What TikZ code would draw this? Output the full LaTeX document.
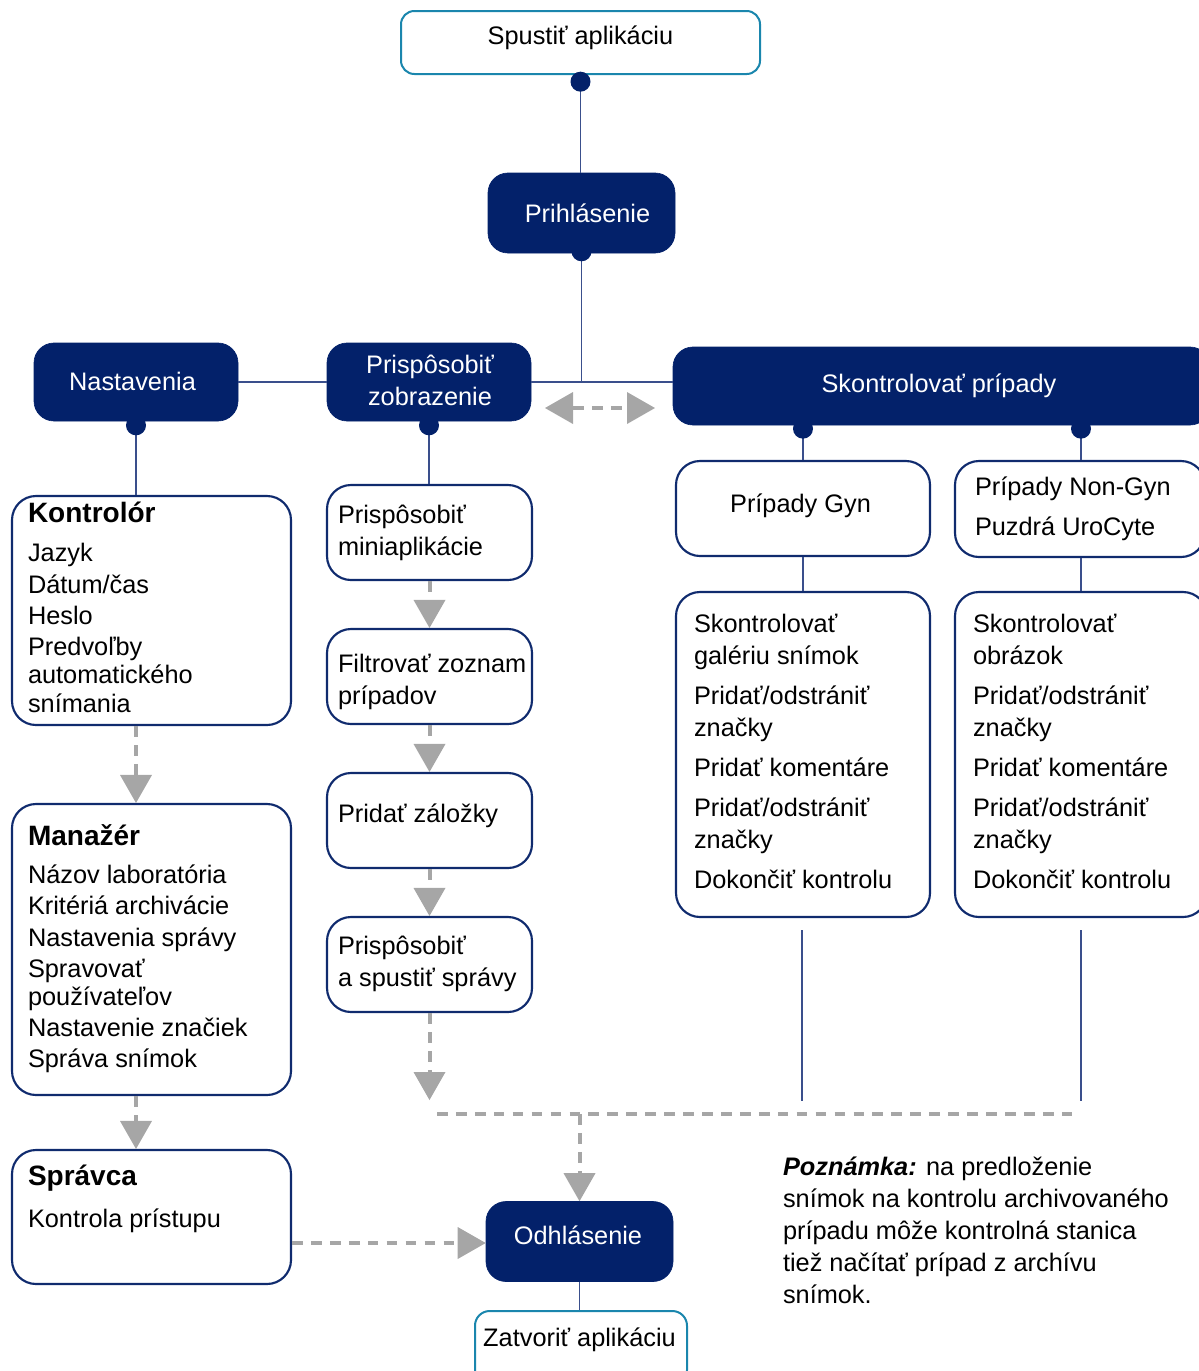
\documentclass[tikz,border=0pt]{standalone}
\usepackage{fontspec}
\setmainfont{Liberation Sans}
\usetikzlibrary{arrows.meta}
\definecolor{navy}{HTML}{03216A}
\definecolor{boxline}{HTML}{102B6E}
\definecolor{tealb}{HTML}{1A86AD}
\definecolor{agray}{HTML}{A6A6A6}
\definecolor{connc}{HTML}{3A4F8C}
\begin{document}
\begin{tikzpicture}[x=0.75pt,y=-0.75pt,
 sz/.style 2 args={minimum width=#1*0.75pt, minimum height=#2*0.75pt},
 dark/.style={shape=rectangle, draw=navy, fill=navy, line width=0.5pt, rounded corners=15pt, inner sep=0pt},
 wbox/.style={shape=rectangle, draw=boxline, line width=1.6pt, fill=white, rounded corners=18pt, inner sep=0pt},
 tbox/.style={shape=rectangle, draw=tealb, line width=1.5pt, fill=white, rounded corners=10pt, inner sep=0pt},
 txt/.style={inner sep=0pt, outer sep=0pt, font=\fontsize{19}{24}\selectfont},
 ctxt/.style={txt, anchor=base, align=center},
 wtxt/.style={ctxt, text=white},
 ltxt/.style={txt, anchor=base west, align=left},
 lst/.style={ltxt, font=\fontsize{19}{21.5}\selectfont},
 ttl/.style={txt, anchor=base west, font=\fontsize{21}{24}\selectfont\bfseries},
 conn/.style={draw=connc, line width=0.9pt},
 dot/.style={circle, fill=navy, inner sep=0pt, minimum size=15pt},
 tri/.tip={Triangle[width=24pt,length=21pt,line width=0pt]},
 dflow/.style={draw=agray, line width=3pt, dash pattern=on 8pt off 6.2pt},
 flow/.style={dflow, -tri},
]
\useasboundingbox (0,0) rectangle (1199,1371);
\clip (0,0) rectangle (1199,1371);

% boxes
\node[tbox, sz={359}{63}] (start) at (580.5,42.5) {};
\node[dark, sz={187}{80}] (login) at (581.5,213) {};
\node[dark, sz={204}{78}] (nast) at (136,382) {};
\node[dark, sz={204}{78}] (prisp) at (429,382) {};
\node[dark, sz={537}{78}] (skon) at (941.5,386) {};
\node[wbox, sz={279}{229}] (kontr) at (151.5,610.5) {};
\node[wbox, sz={279}{291}] (manaz) at (151.5,949.5) {};
\node[wbox, sz={279}{134}] (sprav) at (151.5,1217) {};
\node[wbox, sz={205}{95}] (mini) at (429.5,532.5) {};
\node[wbox, sz={205}{95}] (filt) at (429.5,676.5) {};
\node[wbox, sz={205}{95}] (zal) at (429.5,820.5) {};
\node[wbox, sz={205}{95}] (rep) at (429.5,964.5) {};
\node[wbox, sz={254}{95}] (gyn) at (803,508.5) {};
\node[wbox, sz={250}{96}] (ngyn) at (1080,509) {};
\node[wbox, sz={254}{325}] (gynr) at (803,754.5) {};
\node[wbox, sz={252}{325}] (ngynr) at (1081,754.5) {};
\node[dark, sz={187}{80}] (odh) at (579.5,1241.5) {};
\node[tbox, rounded corners=11pt, sz={212}{74}] (zatv) at (581,1348) {};

% solid connectors
\draw[conn] (start.south) -- (start.south |- login.north);
\draw[conn] (login.south) -- (login.south |- prisp.east);
\draw[conn] (nast.east) -- (prisp.west);
\draw[conn] (prisp.east) -- (prisp.east -| skon.west);
\draw[conn] (nast.south) -- (nast.south |- kontr.north);
\draw[conn] (prisp.south) -- (prisp.south |- mini.north);
\coordinate (k1) at (skon.south -| gyn.north);
\coordinate (k2) at (skon.south -| ngynr.north);
\draw[conn] (k1) -- (gyn.north);
\draw[conn] (k2) -- (k2 |- ngyn.north);
\draw[conn] (gyn.south) -- (gyn.south |- gynr.north);
\draw[conn] (ngyn.south -| ngynr.north) -- (ngynr.north);
\coordinate (g1) at (802,930);
\coordinate (g2) at (802,1101);
\coordinate (n1) at (1081,930);
\coordinate (n2) at (1081,1101);
\draw[conn] (g1) -- (g2);
\draw[conn] (n1) -- (n2);
\draw[conn] (odh.south) -- (odh.south |- zatv.north);

% dots
\node[dot] (d0) at ([yshift=-5pt]start.south) {};
\node[dot] (d1) at ([yshift=1.5pt]login.south) {};
\node[dot] (d2) at ([yshift=-3pt]nast.south) {};
\node[dot] (d3) at ([yshift=-3pt]prisp.south) {};
\node[dot] (d4) at ([yshift=-2.5pt]k1) {};
\node[dot] (d5) at ([yshift=-2.5pt]k2) {};

% dashed flows
\draw[flow] (nast.south |- kontr.south) -- (nast.south |- manaz.north);
\draw[flow] (nast.south |- manaz.south) -- (nast.south |- sprav.north);
\coordinate (sa) at (sprav.east |- 0,1243);
\draw[flow] (sa) -- (sa -| odh.west);
\draw[flow] (mini.south) -- (filt.north);
\draw[flow] (filt.south) -- (zal.north);
\draw[flow] (zal.south) -- (rep.north);
\coordinate (rt) at (429.5,1100);
\draw[flow] (rep.south) -- (rt);
\coordinate (j1) at (437,1114);
\coordinate (j2) at (1080,1114);
\draw[dflow] (j1) -- (j2);
\draw[flow] (odh.north |- j1) -- (odh.north);
\coordinate (da1) at (545,408);
\coordinate (da2) at (655,408);
\draw[dflow, tri-tri] (da1) -- (da2);

% texts (multi-line nodes: base = baseline of last line)
\node[ctxt] (t-start) at (580.5,44) {Spustiť aplikáciu};
\node[wtxt] (t-login) at (587.5,222) {Prihlásenie};
\node[wtxt] (t-nast) at (132.5,390) {Nastavenia};
\node[wtxt] (t-prisp) at (430,405) {Prispôsobiť\\zobrazenie};
\node[wtxt] (t-skon) at (939,392) {Skontrolovať prípady};
\node[ttl] (t-kontr) at (28,522) {Kontrolór};
\node[lst] (t-kontrl) at (28,712.5) {Jazyk\\[1.8pt]Dátum/čas\\[1.8pt]Heslo\\[1.8pt]Predvoľby\\automatického\\snímania};
\node[ttl] (t-manaz) at (28,845) {Manažér};
\node[lst] (t-manazl) at (28,1067.5) {Názov laboratória\\[1.8pt]Kritériá archivácie\\[1.8pt]Nastavenia správy\\[1.8pt]Spravovať\\používateľov\\[1.5pt]Nastavenie značiek\\[1.8pt]Správa snímok};
\node[ttl] (t-sprav) at (28,1185) {Správca};
\node[ltxt] (t-spravl) at (28,1227) {Kontrola prístupu};
\node[ltxt] (t-mini) at (338,555) {Prispôsobiť\\miniaplikácie};
\node[ltxt] (t-filt) at (338,704) {Filtrovať zoznam\\prípadov};
\node[ltxt] (t-zal) at (338,822) {Pridať záložky};
\node[ltxt] (t-rep) at (338,986) {Prispôsobiť\\a spustiť správy};
\node[ctxt] (t-gyn) at (800.5,512) {Prípady Gyn};
\node[ltxt] (t-ngyn) at (975,535) {Prípady Non-Gyn\\[6pt]Puzdrá UroCyte};
\node[ltxt] (t-gynr) at (694,888) {Skontrolovať\\galériu snímok\\[6pt]Pridať/odstrániť\\značky\\[6pt]Pridať komentáre\\[6pt]Pridať/odstrániť\\značky\\[6pt]Dokončiť kontrolu};
\node[ltxt] (t-ngynr) at (973,888) {Skontrolovať\\obrázok\\[6pt]Pridať/odstrániť\\značky\\[6pt]Pridať komentáre\\[6pt]Pridať/odstrániť\\značky\\[6pt]Dokončiť kontrolu};
\node[wtxt] (t-odh) at (578,1244) {Odhlásenie};
\node[ctxt] (t-zatv) at (579.5,1346) {Zatvoriť aplikáciu};
\node[ltxt] (t-note) at (783,1303) {{\bfseries\itshape Poznámka:} na predloženie\\snímok na kontrolu archivovaného\\prípadu môže kontrolná stanica\\tiež načítať prípad z archívu\\snímok.};
\end{tikzpicture}
\end{document}
